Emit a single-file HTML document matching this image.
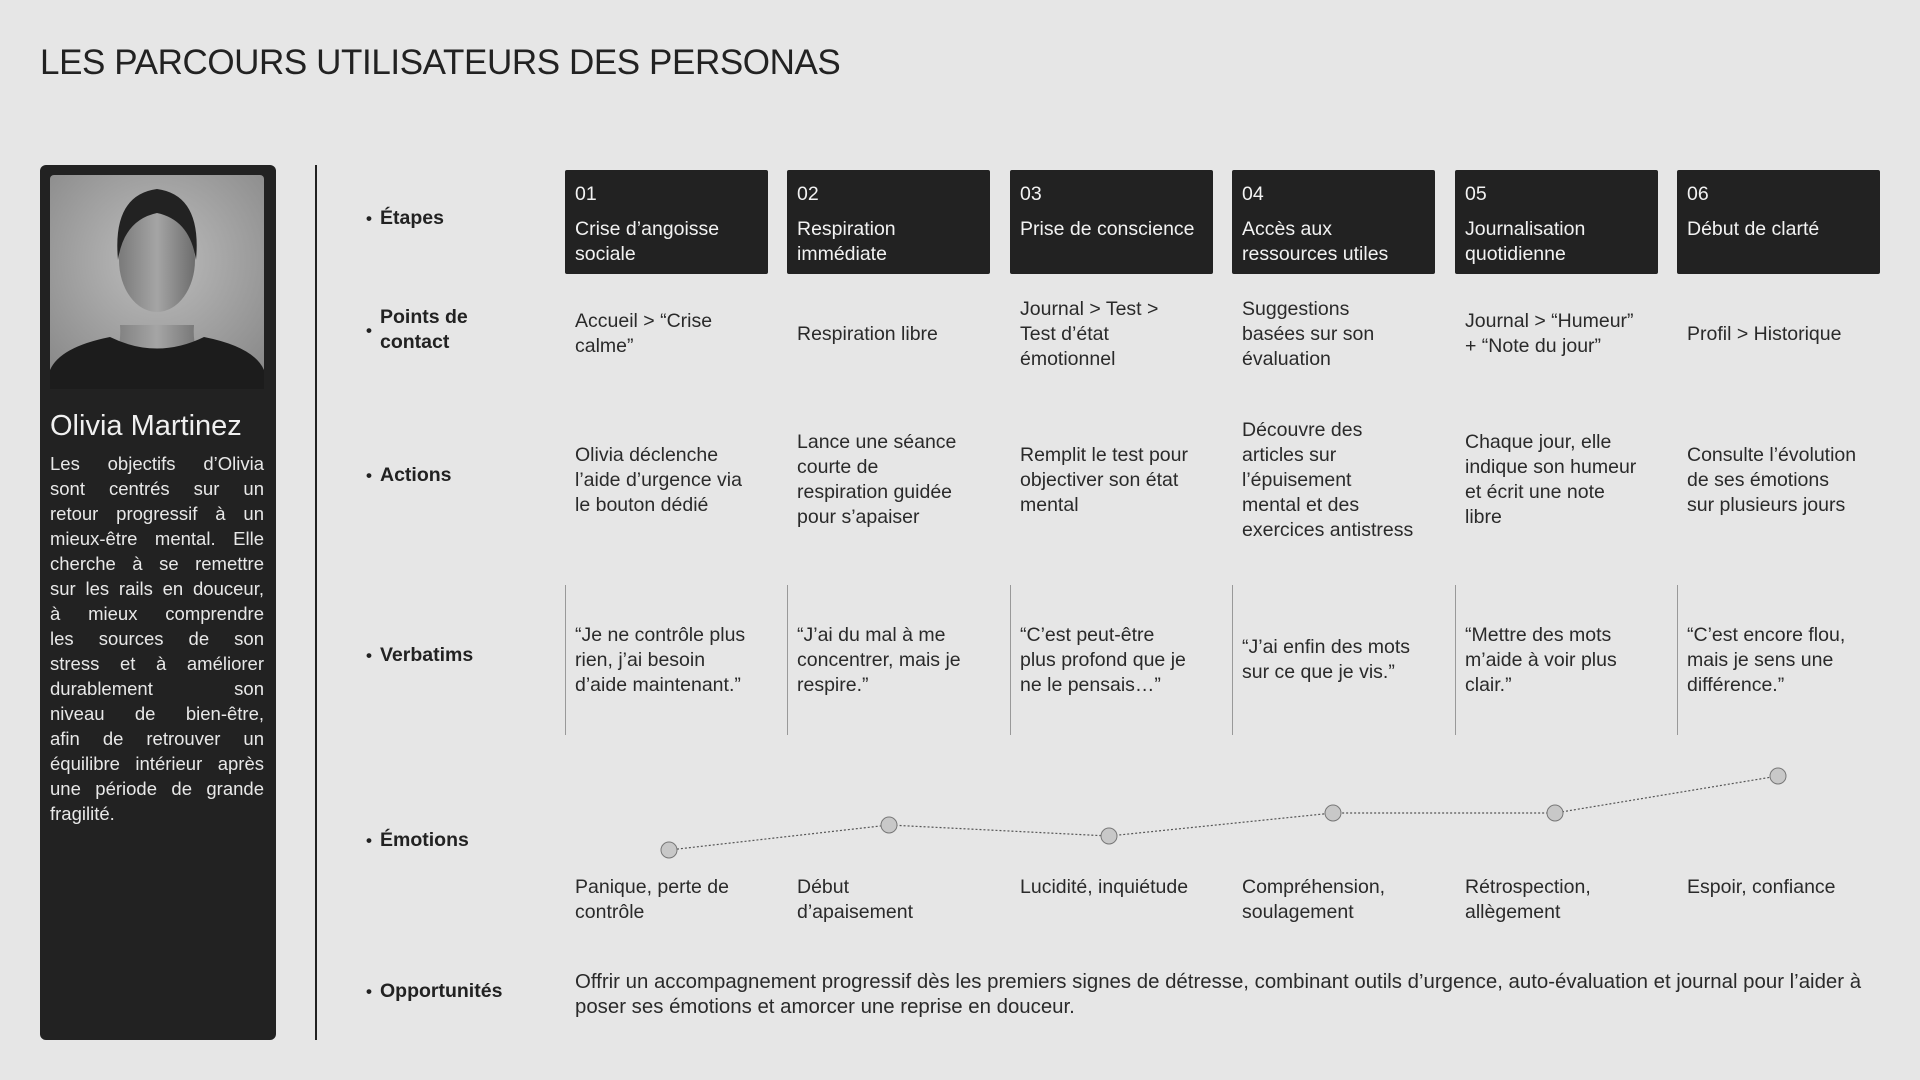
<!DOCTYPE html>
<html><head><meta charset="utf-8"><style>
*{margin:0;padding:0;box-sizing:border-box}
body{width:1920px;height:1080px;background:#e6e6e6;font-family:"Liberation Sans",sans-serif;color:#2a2a2a;position:relative;overflow:hidden}
.a{position:absolute}
h1{position:absolute;left:40px;top:43px;font-size:35px;font-weight:400;color:#222;letter-spacing:-0.4px}
.card{left:40px;top:165px;width:236px;height:875px;background:#222;border-radius:6px}
.name{left:50px;top:410px;font-size:29px;color:#f0f0f0;font-weight:400}
.desc{left:50px;top:451px;width:214px;font-size:18.5px;line-height:25px;color:#e8e8e8}
.desc div{text-align:justify;text-align-last:justify;white-space:nowrap}
.desc div:last-child{text-align-last:left}
.lab{left:366px;width:160px;font-size:19.5px;font-weight:700;color:#222;display:flex;align-items:center;height:60px;line-height:25px}
.lab b{display:inline-block;width:14px;font-size:17px}
.box{top:170px;width:203px;height:104px;background:#222;border-radius:2px;color:#f2f2f2;font-size:19.5px;line-height:25px;padding:12px 10px;white-space:nowrap}
.box .n{margin-bottom:10px}
.cell{width:203px;padding-left:10px;font-size:19.5px;line-height:25px;display:flex;align-items:center;white-space:nowrap}
.vl{width:1px;background:#999;top:585px;height:150px}
</style></head><body>
<h1>LES PARCOURS UTILISATEURS DES PERSONAS</h1>
<div class="a card"></div>
<svg class="a" style="left:50px;top:175px" width="214" height="214">
<defs><radialGradient id="bg" cx="50%" cy="40%" r="70%"><stop offset="0" stop-color="#bdbdbd"/><stop offset="1" stop-color="#8a8a8a"/></radialGradient>
<linearGradient id="sk" x1="0" y1="0" x2="1" y2="0"><stop offset="0" stop-color="#7a7a7a"/><stop offset=".5" stop-color="#a5a5a5"/><stop offset="1" stop-color="#6d6d6d"/></linearGradient></defs>
<rect width="214" height="214" rx="4" fill="url(#bg)"/>
<path d="M70 150 Q72 175 60 180 L154 180 Q142 175 144 150 Z" fill="url(#sk)"/>
<ellipse cx="107" cy="85" rx="38" ry="52" fill="url(#sk)"/>
<path d="M68 85 Q62 20 107 14 Q152 20 146 85 Q140 45 107 38 Q74 45 68 85Z" fill="#222"/>
<path d="M0 214 L0 195 Q10 172 60 162 Q107 185 154 162 Q204 172 214 195 L214 214Z" fill="#1c1c1c"/>
</svg>
<div class="a name">Olivia Martinez</div>
<div class="a desc"><div>Les objectifs d’Olivia</div><div>sont centrés sur un</div><div>retour progressif à un</div><div>mieux-être mental. Elle</div><div>cherche à se remettre</div><div>sur les rails en douceur,</div><div>à mieux comprendre</div><div>les sources de son</div><div>stress et à améliorer</div><div>durablement son</div><div>niveau de bien-être,</div><div>afin de retrouver un</div><div>équilibre intérieur après</div><div>une période de grande</div><div>fragilité.</div></div>
<div class="a" style="left:315px;top:165px;width:1.5px;height:875px;background:#222"></div>

<div class="a lab" style="top:188px"><b>•</b>Étapes</div>
<div class="a lab" style="top:300px"><b>•</b><span>Points de<br>contact</span></div>
<div class="a lab" style="top:445px"><b>•</b>Actions</div>
<div class="a lab" style="top:625px"><b>•</b>Verbatims</div>
<div class="a lab" style="top:810px"><b>•</b>Émotions</div>
<div class="a lab" style="top:961px"><b>•</b>Opportunités</div>

<div class="a box" style="left:565px"><div class="n">01</div>Crise d’angoisse<br>sociale</div>
<div class="a box" style="left:787px"><div class="n">02</div>Respiration<br>immédiate</div>
<div class="a box" style="left:1010px"><div class="n">03</div>Prise de conscience</div>
<div class="a box" style="left:1232px"><div class="n">04</div>Accès aux<br>ressources utiles</div>
<div class="a box" style="left:1455px"><div class="n">05</div>Journalisation<br>quotidienne</div>
<div class="a box" style="left:1677px"><div class="n">06</div>Début de clarté</div>

<div class="a cell" style="left:565px;top:284px;height:100px">Accueil &gt; “Crise<br>calme”</div>
<div class="a cell" style="left:787px;top:284px;height:100px">Respiration libre</div>
<div class="a cell" style="left:1010px;top:284px;height:100px">Journal &gt; Test &gt;<br>Test d’état<br>émotionnel</div>
<div class="a cell" style="left:1232px;top:284px;height:100px">Suggestions<br>basées sur son<br>évaluation</div>
<div class="a cell" style="left:1455px;top:284px;height:100px">Journal &gt; “Humeur”<br>+ “Note du jour”</div>
<div class="a cell" style="left:1677px;top:284px;height:100px">Profil &gt; Historique</div>

<div class="a cell" style="left:565px;top:405px;height:150px">Olivia déclenche<br>l’aide d’urgence via<br>le bouton dédié</div>
<div class="a cell" style="left:787px;top:405px;height:150px">Lance une séance<br>courte de<br>respiration guidée<br>pour s’apaiser</div>
<div class="a cell" style="left:1010px;top:405px;height:150px">Remplit le test pour<br>objectiver son état<br>mental</div>
<div class="a cell" style="left:1232px;top:405px;height:150px">Découvre des<br>articles sur<br>l’épuisement<br>mental et des<br>exercices antistress</div>
<div class="a cell" style="left:1455px;top:405px;height:150px">Chaque jour, elle<br>indique son humeur<br>et écrit une note<br>libre</div>
<div class="a cell" style="left:1677px;top:405px;height:150px">Consulte l’évolution<br>de ses émotions<br>sur plusieurs jours</div>

<div class="a vl" style="left:565px"></div><div class="a vl" style="left:787px"></div><div class="a vl" style="left:1010px"></div><div class="a vl" style="left:1232px"></div><div class="a vl" style="left:1455px"></div><div class="a vl" style="left:1677px"></div>
<div class="a cell" style="left:565px;top:585px;height:150px">“Je ne contrôle plus<br>rien, j’ai besoin<br>d’aide maintenant.”</div>
<div class="a cell" style="left:787px;top:585px;height:150px">“J’ai du mal à me<br>concentrer, mais je<br>respire.”</div>
<div class="a cell" style="left:1010px;top:585px;height:150px">“C’est peut-être<br>plus profond que je<br>ne le pensais…”</div>
<div class="a cell" style="left:1232px;top:585px;height:150px">“J’ai enfin des mots<br>sur ce que je vis.”</div>
<div class="a cell" style="left:1455px;top:585px;height:150px">“Mettre des mots<br>m’aide à voir plus<br>clair.”</div>
<div class="a cell" style="left:1677px;top:585px;height:150px">“C’est encore flou,<br>mais je sens une<br>différence.”</div>

<svg class="a" style="left:0;top:0" width="1920" height="1080">
<polyline points="669,850 889,825 1109,836 1333,813 1555,813 1778,776" fill="none" stroke="#555" stroke-width="1.2" stroke-dasharray="2,2"/>
<g fill="#c8c8c8" stroke="#777" stroke-width="1">
<circle cx="669" cy="850" r="8"/><circle cx="889" cy="825" r="8"/><circle cx="1109" cy="836" r="8"/><circle cx="1333" cy="813" r="8"/><circle cx="1555" cy="813" r="8"/><circle cx="1778" cy="776" r="8"/></g>
</svg>

<div class="a cell" style="left:565px;top:875px;height:50px;align-items:flex-start">Panique, perte de<br>contrôle</div>
<div class="a cell" style="left:787px;top:875px;height:50px;align-items:flex-start">Début<br>d’apaisement</div>
<div class="a cell" style="left:1010px;top:875px;height:50px;align-items:flex-start">Lucidité, inquiétude</div>
<div class="a cell" style="left:1232px;top:875px;height:50px;align-items:flex-start">Compréhension,<br>soulagement</div>
<div class="a cell" style="left:1455px;top:875px;height:50px;align-items:flex-start">Rétrospection,<br>allègement</div>
<div class="a cell" style="left:1677px;top:875px;height:50px;align-items:flex-start">Espoir, confiance</div>

<div class="a" style="left:575px;top:970px;width:1340px;font-size:20.4px;line-height:25px;white-space:nowrap">Offrir un accompagnement progressif dès les premiers signes de détresse, combinant outils d’urgence, auto-évaluation et journal pour l’aider à<br>poser ses émotions et amorcer une reprise en douceur.</div>
</body></html>
